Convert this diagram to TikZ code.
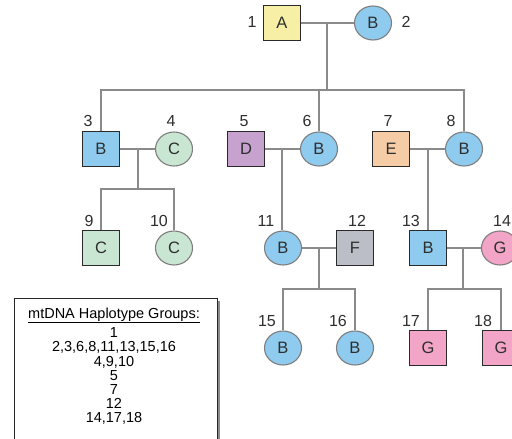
\documentclass[tikz,border=0pt]{standalone}
\usepackage{fontspec}
\setmainfont{Liberation Sans}
\usetikzlibrary{shapes.geometric}

\definecolor{fillA}{HTML}{F7EFA5}
\definecolor{fillB}{HTML}{8FCBEE}
\definecolor{fillC}{HTML}{C9E6D3}
\definecolor{fillD}{HTML}{C7A2CE}
\definecolor{fillE}{HTML}{F5CCA6}
\definecolor{fillF}{HTML}{BBBEC6}
\definecolor{fillG}{HTML}{F2A5C6}
\definecolor{sqline}{HTML}{2A2A2A}
\definecolor{ciline}{HTML}{7E7E7E}
\definecolor{link}{HTML}{8A8A8A}
\definecolor{txt}{HTML}{2E2E2E}

\tikzset{
  male/.style={rectangle, draw=sqline, line width=1.3pt, minimum width=37pt,
    minimum height=35pt, inner sep=0pt, font=\fontsize{16.5}{16}\selectfont, text=txt},
  female/.style={ellipse, draw=ciline, line width=1.1pt, minimum width=37pt,
    minimum height=34pt, inner sep=0pt, font=\fontsize{16.5}{16}\selectfont, text=txt},
  idlabel/.style={font=\fontsize{16}{16}\selectfont, text=txt, inner sep=0pt},
  link/.style={draw=link, line width=1.3pt},
  legendtext/.style={font=\fontsize{14.5}{14.2}\selectfont, align=center, inner sep=0pt, text=black},
}

\begin{document}
\begin{tikzpicture}[x=1pt, y=-1pt]
\useasboundingbox (0,0) rectangle (512,439);

% generation I
\node[male, fill=fillA] (n1) at (282,23) {A};
\node[female, fill=fillB] (n2) at (373,23) {B};
% generation II
\node[male, fill=fillB] (n3) at (101,149) {B};
\node[female, fill=fillC] (n4) at (174,149) {C};
\node[male, fill=fillD] (n5) at (246,149) {D};
\node[female, fill=fillB] (n6) at (319,149) {B};
\node[male, fill=fillE] (n7) at (391,149) {E};
\node[female, fill=fillB] (n8) at (464,149) {B};
% generation III
\node[male, fill=fillC] (n9) at (101,248) {C};
\node[female, fill=fillC] (n10) at (174,248) {C};
\node[female, fill=fillB] (n11) at (283,248) {B};
\node[male, fill=fillF] (n12) at (355,248) {F};
\node[male, fill=fillB] (n13) at (428,248) {B};
\node[female, fill=fillG] (n14) at (500,248) {G};
% generation IV
\node[female, fill=fillB] (n15) at (283,348) {B};
\node[female, fill=fillB] (n16) at (355,348) {B};
\node[male, fill=fillG] (n17) at (428,348) {G};
\node[male, fill=fillG] (n18) at (501,348) {G};

% individual numbers
\node[idlabel] (l1) at (252,22) {1};
\node[idlabel] (l2) at (406,22) {2};
\node[idlabel] (l3) at (88,121) {3};
\node[idlabel] (l4) at (171,121) {4};
\node[idlabel] (l5) at (244,121) {5};
\node[idlabel] (l6) at (307,121) {6};
\node[idlabel] (l7) at (388,121) {7};
\node[idlabel] (l8) at (451,121) {8};
\node[idlabel] (l9) at (89,221) {9};
\node[idlabel] (l10) at (159,221) {10};
\node[idlabel] (l11) at (266,221) {11};
\node[idlabel] (l12) at (357,221) {12};
\node[idlabel] (l13) at (411,221) {13};
\node[idlabel] (l14) at (502,221) {14};
\node[idlabel] (l15) at (267,321) {15};
\node[idlabel] (l16) at (338,321) {16};
\node[idlabel] (l17) at (411,321) {17};
\node[idlabel] (l18) at (483,321) {18};

% mating lines and descent points
\coordinate (m12) at (327,23);
\coordinate (m34) at (138,149);
\coordinate (m56) at (282,149);
\coordinate (m78) at (428,149);
\coordinate (m1112) at (319,248);
\coordinate (m1314) at (463,248);

\path[link] (n1.east) -- (n2.west);
\path[link] (n3.east) -- (n4.west);
\path[link] (n5.east) -- (n6.west);
\path[link] (n7.east) -- (n8.west);
\path[link] (n11.east) -- (n12.west);
\path[link] (n13.east) -- (n14.west);

% sibships
\coordinate (s12) at (327,90);
\path[link] (m12) -- (s12);
\path[link] (n3.north) |- (s12) -| (n8.north);
\path[link] (n6.north) -- (n6.north |- s12);

\coordinate (s34) at (138,189);
\path[link] (m34) -- (s34);
\path[link] (n9.north) |- (s34) -| (n10.north);

\path[link] (m56) -- (m56 |- n11.north);
\path[link] (m78) -- (m78 |- n13.north);

\coordinate (s1112) at (319,289);
\path[link] (m1112) -- (s1112);
\path[link] (n15.north) |- (s1112) -| (n16.north);

\coordinate (s1314) at (463,289);
\path[link] (m1314) -- (s1314);
\path[link] (n17.north) |- (s1314) -| (n18.north);

% legend box with shadow
\fill[black!45] (17,301) rectangle (220,460);
\draw[fill=white, draw=black!85, line width=1pt] (14,298) rectangle (217,460);
\node[legendtext, anchor=base] (legendtitle) at (114,318)
  {\underline{mtDNA Haplotype Groups:}};
\node[legendtext, anchor=north] (legendbody) at (114,327.5)
  {1\\ 2,3,6,8,11,13,15,16\\ 4,9,10\\ 5\\ 7\\ 12\\ 14,17,18};
\end{tikzpicture}
\end{document}
